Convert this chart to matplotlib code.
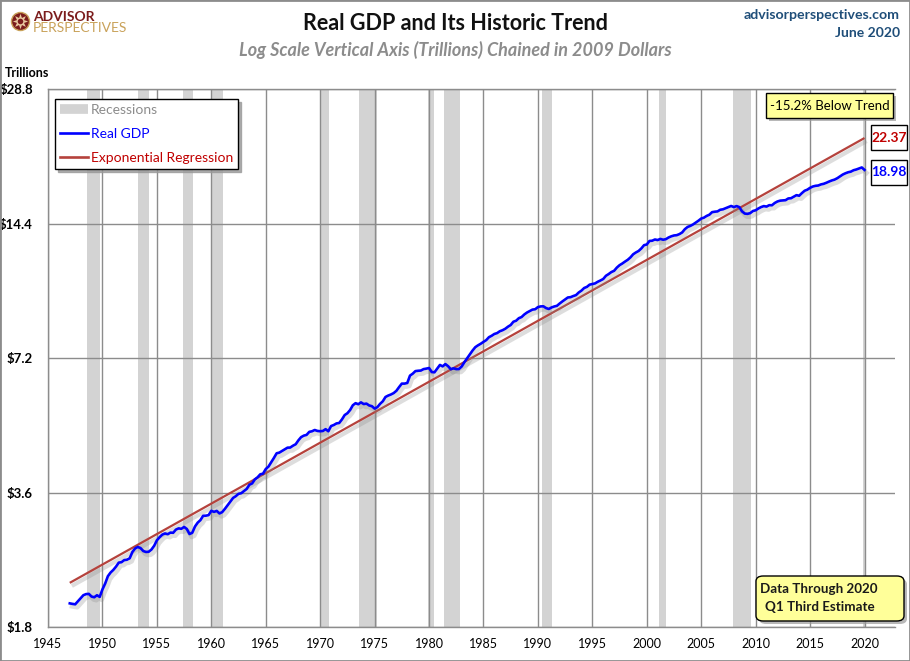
import matplotlib
matplotlib.use('Agg')
import matplotlib.pyplot as plt
import numpy as np
import pandas as pd
from matplotlib import patheffects as pe
from matplotlib.patches import Rectangle, FancyBboxPatch
from matplotlib.lines import Line2D
from matplotlib.ticker import NullLocator, FixedLocator

plt.rcParams['font.family'] = ['Lato', 'DejaVu Sans']

# ---------------- data ----------------
start_quarter = '1947Q1'
end_quarter = '2020Q1'
# Real GDP, billions of chained dollars, quarterly
gdp_billions = [
    2033.1, 2027.6, 2023.5, 2055.1,   # 1947
    2086.0, 2120.5, 2132.6, 2135.0,   # 1948
    2105.6, 2098.4, 2120.0, 2102.3,   # 1949
    2184.9, 2251.5, 2338.5, 2383.3,   # 1950
    2415.7, 2457.5, 2508.2, 2513.7,   # 1951
    2540.6, 2546.0, 2564.4, 2648.6,   # 1952
    2697.9, 2718.7, 2703.4, 2662.5,   # 1953
    2649.8, 2652.6, 2682.6, 2735.1,   # 1954
    2813.2, 2859.0, 2897.6, 2915.0,   # 1955
    2903.7, 2927.7, 2925.0, 2973.2,   # 1956
    2992.2, 2985.7, 3014.9, 2983.2,   # 1957
    2906.3, 2925.4, 3020.6, 3081.8,   # 1958
    3121.9, 3192.4, 3194.7, 3203.8,   # 1959
    3275.8, 3258.1, 3274.0, 3232.0,   # 1960
    3253.8, 3309.1, 3372.6, 3438.7,   # 1961
    3500.1, 3531.7, 3575.1, 3586.8,   # 1962
    3625.3, 3666.7, 3747.3, 3771.8,   # 1963
    3851.4, 3893.5, 3954.1, 3966.3,   # 1964
    4062.3, 4113.6, 4205.1, 4301.3,   # 1965
    4406.1, 4421.7, 4459.2, 4495.8,   # 1966
    4535.6, 4538.4, 4581.3, 4615.9,   # 1967
    4710.0, 4788.7, 4825.8, 4844.1,   # 1968
    4920.6, 4935.6, 4968.2, 4944.5,   # 1969
    4936.6, 4943.6, 4989.2, 4935.7,   # 1970
    5069.7, 5097.2, 5139.1, 5151.2,   # 1971
    5246.0, 5365.0, 5415.7, 5506.4,   # 1972
    5642.7, 5704.1, 5674.1, 5728.0,   # 1973
    5678.7, 5692.2, 5638.4, 5616.5,   # 1974
    5548.2, 5587.8, 5683.4, 5759.0,   # 1975
    5889.5, 5932.7, 5965.3, 6008.5,   # 1976
    6079.5, 6197.7, 6309.5, 6309.7,   # 1977
    6329.8, 6574.4, 6640.5, 6729.8,   # 1978
    6741.9, 6749.1, 6799.2, 6816.2,   # 1979
    6837.6, 6696.8, 6688.8, 6813.5,   # 1980
    6947.0, 6895.6, 6978.1, 6902.1,   # 1981
    6794.9, 6825.9, 6799.8, 6802.5,   # 1982
    6892.1, 7049.0, 7189.9, 7339.9,   # 1983
    7483.4, 7612.7, 7686.1, 7749.2,   # 1984
    7824.2, 7893.1, 8013.7, 8073.2,   # 1985
    8148.6, 8185.3, 8263.6, 8308.0,   # 1986
    8369.9, 8460.2, 8533.6, 8680.2,   # 1987
    8725.0, 8839.6, 8891.4, 9009.9,   # 1988
    9101.5, 9171.0, 9238.9, 9257.1,   # 1989
    9358.3, 9392.3, 9398.5, 9312.9,   # 1990
    9269.4, 9341.6, 9388.8, 9421.6,   # 1991
    9534.3, 9637.7, 9733.0, 9834.5,   # 1992
    9851.0, 9908.3, 9955.6, 10091.0,  # 1993
    10189.0, 10327.0, 10387.4, 10506.4,  # 1994
    10543.6, 10575.1, 10665.1, 10737.5,  # 1995
    10817.9, 10998.3, 11097.0, 11212.2,  # 1996
    11284.6, 11472.1, 11615.6, 11715.4,  # 1997
    11832.5, 11942.0, 12091.6, 12287.0,  # 1998
    12403.3, 12498.7, 12662.4, 12877.6,  # 1999
    12924.2, 13160.8, 13178.4, 13260.5,  # 2000
    13222.7, 13300.0, 13244.8, 13280.9,  # 2001
    13397.0, 13478.2, 13538.1, 13559.0,  # 2002
    13634.3, 13751.5, 13985.1, 14145.6,  # 2003
    14221.1, 14329.5, 14465.0, 14609.9,  # 2004
    14771.6, 14839.8, 14972.1, 15066.6,  # 2005
    15267.0, 15302.7, 15326.4, 15456.9,  # 2006
    15493.3, 15582.1, 15666.7, 15762.0,  # 2007
    15671.4, 15752.3, 15667.0, 15328.0,  # 2008
    15155.9, 15134.1, 15189.2, 15356.1,  # 2009
    15415.1, 15557.3, 15672.0, 15750.6,  # 2010
    15712.8, 15825.1, 15820.7, 16004.1,  # 2011
    16129.4, 16198.8, 16220.7, 16239.1,  # 2012
    16383.0, 16403.2, 16531.7, 16663.6,  # 2013
    16616.5, 16841.5, 17047.1, 17143.0,  # 2014
    17305.8, 17422.8, 17486.0, 17514.1,  # 2015
    17613.3, 17668.2, 17764.4, 17876.2,  # 2016
    17977.3, 18054.1, 18185.6, 18359.4,  # 2017
    18530.5, 18654.4, 18752.4, 18813.9,  # 2018
    18950.3, 19021.9, 19121.1, 19222.0,  # 2019
    18980.0,                             # 2020
]

# Exponential regression line (trillions) at its two ends
trend_years = [1947.0, 2020.0]
trend_trillions = [2.26, 22.37]

# Recession periods (start, end) in decimal years
recessions = [
    (1948.6, 1949.8), (1953.3, 1954.25), (1957.4, 1958.3), (1960.05, 1961.1),
    (1969.95, 1970.8), (1973.6, 1975.25), (1979.95, 1980.5), (1981.35, 1982.8),
    (1990.35, 1991.3), (2001.1, 2001.8), (2007.95, 2009.55), (2019.85, 2020.1),
]

y_ticks = [1.8, 3.6, 7.2, 14.4, 28.8]
y_tick_labels = ['$1.8', '$3.6', '$7.2', '$14.4', '$28.8']
x_ticks = list(range(1945, 2021, 5))

# ---------------- figure ----------------
W, H = 910, 661
fig = plt.figure(figsize=(W / 100, H / 100), dpi=100)

def fx(px):
    return px / W

def fy(py):
    return 1 - py / H

ax = fig.add_axes([fx(48), fy(627), fx(895) - fx(48), fy(89) - fy(627)])

quarters = pd.period_range(start_quarter, end_quarter, freq='Q')
t = np.asarray(quarters.year) + (np.asarray(quarters.quarter) - 1) / 4.0
gdp_tr = np.array(gdp_billions) / 1000.0

for s, e in recessions:
    ax.axvspan(s, e, color='#d3d3d3', lw=0, zorder=0.5)

def shadow_fx(w):
    return [pe.SimpleLineShadow(offset=(1.5, -2.2), shadow_color='#888888', alpha=0.28, linewidth=w),
            pe.Normal()]

ax.plot(trend_years, trend_trillions, color='#b5423c', lw=1.6, zorder=3,
        path_effects=shadow_fx(3.0), solid_capstyle='butt')
ax.plot(t, gdp_tr, color='#0000ff', lw=1.9, zorder=4, path_effects=shadow_fx(3.2))

ax.set_yscale('log', base=2)
ax.set_ylim(1.8, 28.8)
ax.set_xlim(1945, 2022.8)
ax.yaxis.set_major_locator(FixedLocator(y_ticks))
ax.yaxis.set_minor_locator(NullLocator())
ax.set_yticklabels(y_tick_labels, fontweight='bold', fontsize=9.5)
ax.set_xticks(x_ticks)
ax.set_xticklabels([str(x) for x in x_ticks], fontsize=9)
ax.tick_params(axis='y', length=0, pad=11)
ax.tick_params(axis='x', length=0, pad=8)
ax.grid(True, color='#8c8c8c', lw=1)
for side in ['left', 'top', 'bottom']:
    ax.spines[side].set_color('#8c8c8c')
    ax.spines[side].set_linewidth(1)
ax.spines['right'].set_visible(False)

# legend
handles = [
    Line2D([], [], color='#d3d3d3', lw=7, solid_capstyle='butt'),
    Line2D([], [], color='#0000ff', lw=1.9),
    Line2D([], [], color='#b5423c', lw=1.9),
]
labels = ['Recessions', 'Real GDP', 'Exponential Regression']
leg = ax.legend(handles, labels, loc='upper left', bbox_to_anchor=(0.0, 0.9935),
                frameon=True, fancybox=False, shadow={'color': '#999999', 'alpha': 0.8},
                edgecolor='black', framealpha=1, fontsize=10, handlelength=2.0,
                labelspacing=0.85, borderpad=0.35, handletextpad=0.25, borderaxespad=0.5)
leg.get_frame().set_linewidth(1)
for txt, c in zip(leg.get_texts(), ['#8c8c8c', '#0000ff', '#c00000']):
    txt.set_color(c)

# ---------------- text ----------------
fig.text(0.5, fy(24), 'Real GDP and Its Historic Trend', ha='center', va='center',
         fontsize=15.5, fontweight='bold', color='#111111')
fig.text(0.5, fy(50), 'Log Scale Vertical Axis (Trillions) Chained in 2009 Dollars',
         ha='center', va='center', fontsize=13, fontweight='bold', style='italic', color='#8c8c8c')
fig.text(fx(900), fy(15), 'advisorperspectives.com', ha='right', va='center',
         fontsize=10.2, fontweight='bold', color='#1f4e79')
fig.text(fx(900), fy(33), 'June 2020', ha='right', va='center',
         fontsize=10, fontweight='bold', color='#1f4e79')
fig.text(fx(5), fy(73), 'Trillions', ha='left', va='center', fontsize=9, fontweight='bold')

# logo
fig.add_artist(Line2D([fx(20)], [fy(21)], marker='o', markersize=13, color='#7b1c1c',
                      markeredgecolor='#c9a25a', markeredgewidth=1, transform=fig.transFigure))
fig.add_artist(Line2D([fx(20)], [fy(21)], marker=(8, 1, 0), markersize=11, color='#e9c9a0',
                      markeredgewidth=0, transform=fig.transFigure))
fig.add_artist(Line2D([fx(20)], [fy(21)], marker='o', markersize=4, color='#7b1c1c',
                      markeredgewidth=0, transform=fig.transFigure))
fig.text(fx(33), fy(21), 'ADVISOR', ha='left', va='baseline', fontsize=10, fontweight='bold', color='#7b1c1c')
fig.text(fx(33), fy(31.5), 'PERSPECTIVES', ha='left', va='baseline', fontsize=10, color='#c9a25a')

def box(x0, y0, x1, y1, face, shadow_on=True, rounded=False):
    w, h = fx(x1) - fx(x0), fy(y0) - fy(y1)
    if rounded:
        style = 'round,pad=0,rounding_size=0.008'
        if shadow_on:
            fig.add_artist(FancyBboxPatch((fx(x0 + 3), fy(y1 + 3)), w, h, boxstyle=style,
                                          transform=fig.transFigure, facecolor='#9a9a9a',
                                          edgecolor='none', alpha=0.7))
        fig.add_artist(FancyBboxPatch((fx(x0), fy(y1)), w, h, boxstyle=style,
                                      transform=fig.transFigure, facecolor=face,
                                      edgecolor='black', lw=1))
    else:
        if shadow_on:
            fig.add_artist(Rectangle((fx(x0 + 3), fy(y1 + 3)), w, h, transform=fig.transFigure,
                                     facecolor='#9a9a9a', edgecolor='none', alpha=0.7))
        fig.add_artist(Rectangle((fx(x0), fy(y1)), w, h, transform=fig.transFigure,
                                 facecolor=face, edgecolor='black', lw=1))

last_gdp = gdp_tr[-1]
last_trend = trend_trillions[-1]
pct = (last_gdp / last_trend - 1) * 100

box(766, 93, 893, 118, '#ffff99')
fig.text(fx(829.5), fy(105.5), f'{pct:.1f}% Below Trend', ha='center', va='center', fontsize=9.5)

box(871, 125, 907, 150, 'white', shadow_on=False)
fig.text(fx(889), fy(137.5), f'{last_trend:.2f}', ha='center', va='center', fontsize=10,
         fontweight='bold', color='#c00000')
box(871, 160, 907, 185, 'white', shadow_on=False)
fig.text(fx(889), fy(172.5), f'{last_gdp:.2f}', ha='center', va='center', fontsize=10,
         fontweight='bold', color='#0000ff')

box(756, 576, 904, 621, '#ffff99', rounded=True)
fig.text(fx(819), fy(589), 'Data Through 2020', ha='center', va='center', fontsize=9.6,
         fontweight='bold', color='#1a1a1a')
fig.text(fx(820), fy(607), 'Q1 Third Estimate', ha='center', va='center', fontsize=9.6,
         fontweight='bold', color='#1a1a1a')

# outer border
fig.add_artist(Rectangle((0, 0), 1, 1, transform=fig.transFigure, fill=False,
                         edgecolor='#8c8c8c', lw=2))

fig.savefig('out.png', dpi=100)
